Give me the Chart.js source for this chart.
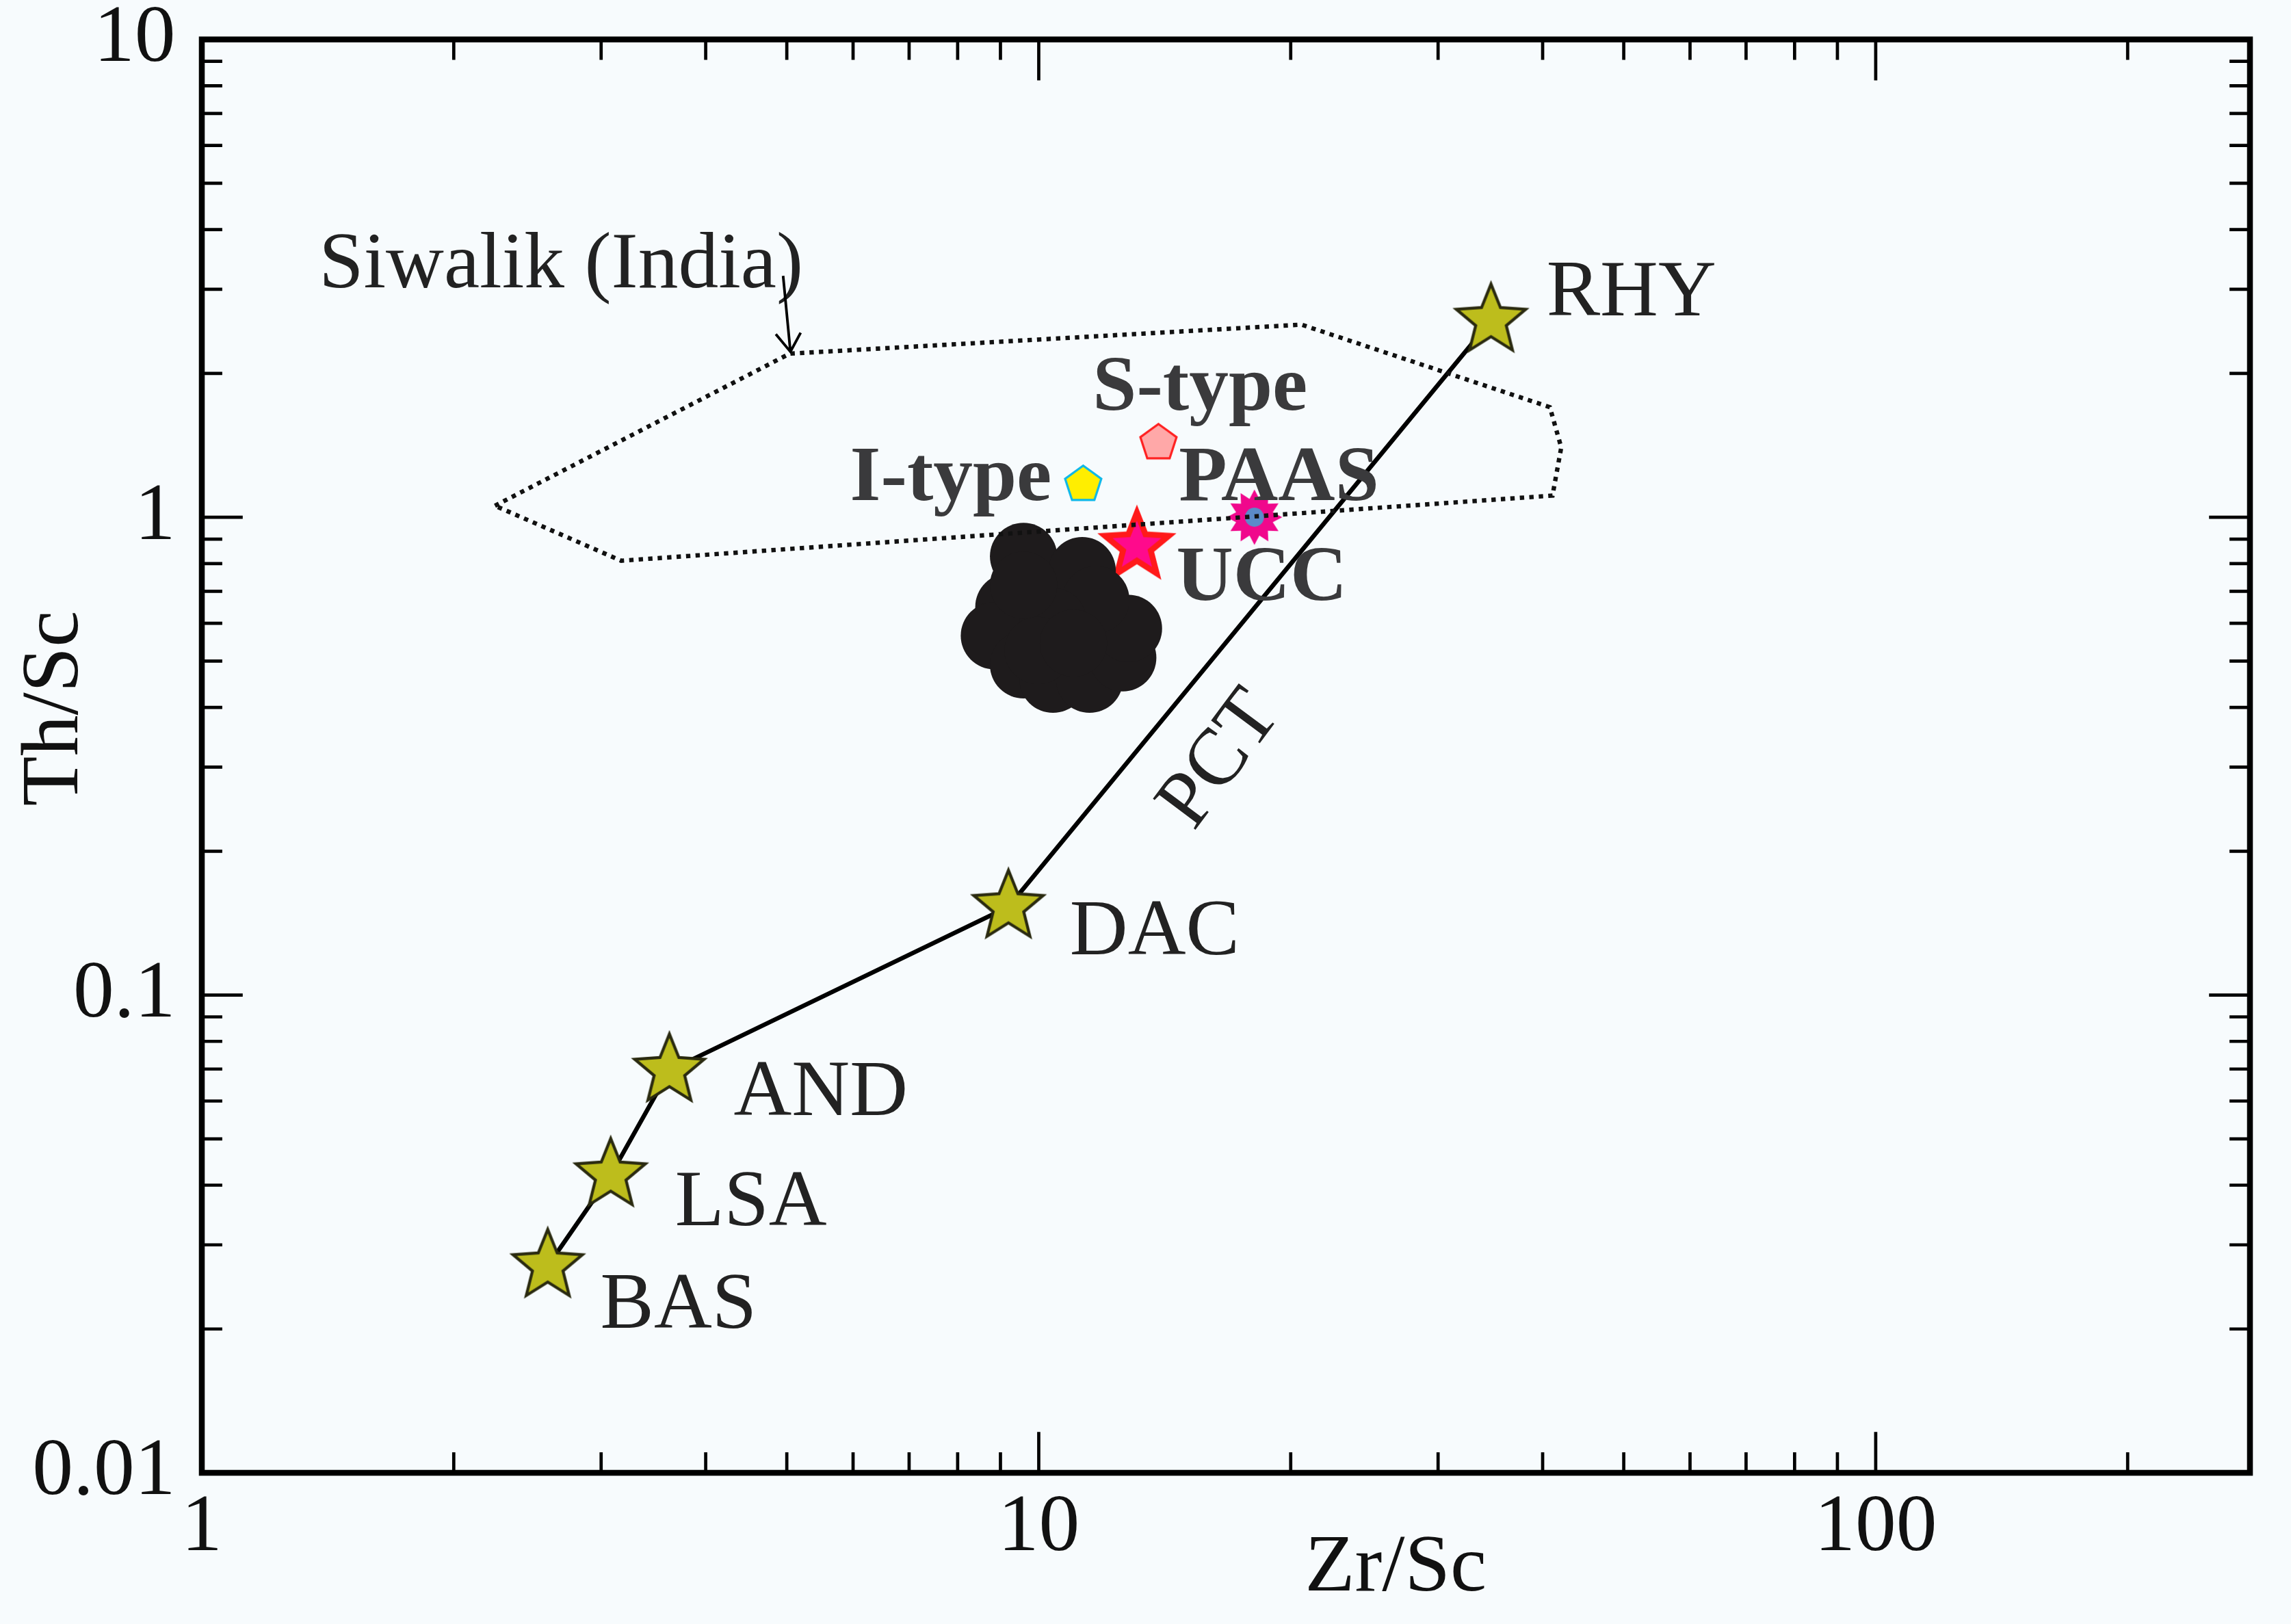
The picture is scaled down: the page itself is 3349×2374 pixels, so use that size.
<!DOCTYPE html>
<html>
<head>
<meta charset="utf-8">
<script src="https://cdn.jsdelivr.net/npm/chart.js@4.4.1/dist/chart.umd.min.js"></script>
<style>
  html, body { margin: 0; padding: 0; background: #f7fbfd; }
  #wrap { width: 3349px; height: 2374px; }
</style>
</head>
<body>
<div id="wrap"><canvas id="c" width="3349" height="2374"></canvas></div>
<script>
// ── Data ────────────────────────────────────────────────
const pctNames = ["BAS", "LSA", "AND", "DAC", "RHY"];
const pctZr = [2.59, 3.08, 3.62, 9.2, 34.7];
const pctTh = [0.0271, 0.042, 0.0695, 0.153, 2.58];

const siwalikZr = [2.24, 5.04, 20.6, 40.8, 42.1, 41.1, 3.17, 2.24];
const siwalikTh = [1.057, 2.2, 2.53, 1.70, 1.40, 1.11, 0.811, 1.057];

const sampleZr = [9.59, 11.27, 9.21, 8.85, 9.59, 10.4, 11.5, 12.6, 12.8, 11.7, 10.4, 9.98, 11.0, 9.59];
const sampleTh = [0.828, 0.773, 0.649, 0.565, 0.491, 0.458, 0.458, 0.508, 0.585, 0.672, 0.605, 0.526, 0.545, 0.721];

const iTypeZr = [11.3], iTypeTh = [1.17];
const sTypeZr = [13.9], sTypeTh = [1.43];
const uccZr = [13.1], uccTh = [0.87];
const paasZr = [18.1], paasTh = [1.0];

const xTicks = [1, 10, 100];
const yTicks = [0.01, 0.1, 1, 10];

const S = 2.136; // reference scale factor
const SERIF = "'Liberation Serif', 'DejaVu Serif', serif";

// ── Marker images ───────────────────────────────────────
function makeShape(r, draw) {
  const c = document.createElement("canvas");
  c.width = c.height = Math.ceil(r * 2 + 8);
  const g = c.getContext("2d");
  g.translate(c.width / 2, c.height / 2);
  draw(g);
  return c;
}
function starPath(g, n, ro, ri) {
  g.beginPath();
  for (let i = 0; i < n * 2; i++) {
    const r = i % 2 ? ri : ro;
    const a = -Math.PI / 2 + i * Math.PI / n;
    g.lineTo(r * Math.cos(a), r * Math.sin(a));
  }
  g.closePath();
}
const pctStar = makeShape(27 * S, g => {
  starPath(g, 5, 25 * S, 11 * S);
  g.fillStyle = "#bdbd1c"; g.fill();
  g.lineWidth = 2 * S; g.strokeStyle = "#2a2a10"; g.stroke();
});
const uccStar = makeShape(27 * S, g => {
  starPath(g, 5, 23 * S, 10 * S);
  g.fillStyle = "#ff0a8c"; g.fill();
  g.lineWidth = 4 * S; g.strokeStyle = "#ff1a1a"; g.stroke();
});
const paasStar = makeShape(22 * S, g => {
  starPath(g, 12, 19 * S, 13 * S);
  g.fillStyle = "#f0088c"; g.fill();
  g.beginPath(); g.arc(0, 0, 6.5 * S, 0, Math.PI * 2);
  g.fillStyle = "#5b8ac9"; g.fill();
});
function pentagon(fill, stroke) {
  return makeShape(15 * S, g => {
    starPath(g, 5, 13 * S, 13 * S * Math.cos(Math.PI / 5));
    g.fillStyle = fill; g.fill();
    g.lineWidth = 1.5 * S; g.strokeStyle = stroke; g.stroke();
  });
}
const iPent = pentagon("#ffee00", "#10b8e8");
const sPent = pentagon("#ffa8a8", "#ff2020");

const pts = (xs, ys) => xs.map((x, i) => ({ x: x, y: ys[i] }));

// ── Annotation plugin: frame, ticks, labels ─────────────
const decorPlugin = {
  id: "decor",
  afterDraw(chart) {
    const { ctx } = chart;
    const xs = chart.scales.x, ys = chart.scales.y;
    const { left, right, top, bottom } = chart.chartArea;
    ctx.save();
    ctx.strokeStyle = "#000";
    ctx.lineWidth = 4 * S;
    ctx.strokeRect(left, top, right - left, bottom - top);

    // inward ticks, all four sides
    ctx.lineWidth = 2.2 * S;
    const xMinor = [], yMinor = [];
    for (let d = 1; d <= 100; d *= 10) for (let k = 1; k <= 9; k++) if (d * k <= 280) xMinor.push(d * k);
    for (let d = 0.01; d < 10; d *= 10) for (let k = 1; k <= 9; k++) yMinor.push(+(d * k).toPrecision(3));
    yMinor.push(10);
    ctx.beginPath();
    xMinor.forEach(v => {
      const px = xs.getPixelForValue(v);
      const len = xTicks.includes(v) ? 28 * S : 14 * S;
      ctx.moveTo(px, bottom); ctx.lineTo(px, bottom - len);
      ctx.moveTo(px, top); ctx.lineTo(px, top + len);
    });
    yMinor.forEach(v => {
      const py = ys.getPixelForValue(v);
      const len = yTicks.some(t => Math.abs(t - v) < 1e-9) ? 28 * S : 14 * S;
      ctx.moveTo(left, py); ctx.lineTo(left + len, py);
      ctx.moveTo(right, py); ctx.lineTo(right - len, py);
    });
    ctx.stroke();

    // tick labels
    ctx.fillStyle = "#111";
    ctx.font = `${56 * S}px ${SERIF}`;
    ctx.textAlign = "center"; ctx.textBaseline = "top";
    xTicks.forEach(v => ctx.fillText(String(v), xs.getPixelForValue(v), bottom + 10 * S));
    ctx.textAlign = "right"; ctx.textBaseline = "middle";
    yTicks.forEach(v => ctx.fillText(String(v), left - 18 * S, ys.getPixelForValue(v)));

    // axis titles
    ctx.textAlign = "center"; ctx.textBaseline = "top";
    ctx.fillText("Zr/Sc", xs.getPixelForValue(26.7), bottom + 38 * S);
    ctx.save();
    ctx.translate(left - 100 * S, ys.getPixelForValue(0.398));
    ctx.rotate(-Math.PI / 2);
    ctx.textBaseline = "middle";
    ctx.fillText("Th/Sc", 0, 0);
    ctx.restore();

    // PCT labels
    ctx.font = `${55 * S}px ${SERIF}`;
    ctx.fillStyle = "#222";
    ctx.textAlign = "left"; ctx.textBaseline = "middle";
    const off = { BAS: [36, 28], LSA: [44, 20], AND: [44, 16], DAC: [42, 18], RHY: [38, -18] };
    pctNames.forEach((n, i) => {
      const px = xs.getPixelForValue(pctZr[i]), py = ys.getPixelForValue(pctTh[i]);
      ctx.fillText(n, px + off[n][0] * S, py + off[n][1] * S);
    });

    // PCT along line
    ctx.save();
    ctx.translate(xs.getPixelForValue(16.5), ys.getPixelForValue(0.31));
    ctx.rotate(-0.93);
    ctx.textAlign = "center";
    ctx.fillText("PCT", 0, 0);
    ctx.restore();

    // Siwalik label + arrow
    ctx.fillText("Siwalik (India)", xs.getPixelForValue(1.38), ys.getPixelForValue(3.35));
    const ax = xs.getPixelForValue(5.05), ay1 = ys.getPixelForValue(3.2), ay2 = ys.getPixelForValue(2.22);
    ctx.lineWidth = 1.8 * S;
    ctx.beginPath();
    ctx.moveTo(ax - 5 * S, ay1); ctx.lineTo(ax, ay2);
    ctx.moveTo(ax - 10 * S, ay2 - 12 * S); ctx.lineTo(ax, ay2); ctx.lineTo(ax + 7 * S, ay2 - 13 * S);
    ctx.stroke();

    // bold labels
    ctx.font = `bold ${54 * S}px ${SERIF}`;
    ctx.fillStyle = "#3a3a3c";
    ctx.fillText("S-type", xs.getPixelForValue(11.6), ys.getPixelForValue(1.85));
    ctx.fillText("I-type", xs.getPixelForValue(5.95), ys.getPixelForValue(1.2));
    ctx.fillText("PAAS", xs.getPixelForValue(14.7), ys.getPixelForValue(1.2));
    ctx.fillText("UCC", xs.getPixelForValue(14.6), ys.getPixelForValue(0.74));
    ctx.restore();
  }
};

new Chart(document.getElementById("c"), {
  type: "scatter",
  data: {
    datasets: [
      { data: pts(siwalikZr, siwalikTh), showLine: true, borderColor: "#111", borderWidth: 3 * S,
        borderDash: [3 * S, 3.5 * S], pointRadius: 0, fill: false, tension: 0 },
      { data: pts(pctZr, pctTh), showLine: true, borderColor: "#000", borderWidth: 3 * S,
        pointStyle: pctStar, pointRadius: 24 * S },
      { data: pts(sampleZr, sampleTh), pointStyle: "circle", pointRadius: 23 * S,
        backgroundColor: "#1e1b1c", borderColor: "#1e1b1c", borderWidth: 0 },
      { data: pts(iTypeZr, iTypeTh), pointStyle: iPent, pointRadius: 14 * S },
      { data: pts(sTypeZr, sTypeTh), pointStyle: sPent, pointRadius: 14 * S },
      { data: pts(uccZr, uccTh), pointStyle: uccStar, pointRadius: 24 * S },
      { data: pts(paasZr, paasTh), pointStyle: paasStar, pointRadius: 20 * S }
    ]
  },
  plugins: [decorPlugin],
  options: {
    responsive: false,
    devicePixelRatio: 1,
    animation: false,
    layout: { padding: { left: 295, top: 38, right: 60, bottom: 221 } },
    plugins: { legend: { display: false }, tooltip: { enabled: false } },
    scales: {
      x: { type: "logarithmic", min: 1, max: 280, display: false },
      y: { type: "logarithmic", min: 0.01, max: 10, display: false }
    }
  }
});
</script>
</body>
</html>
